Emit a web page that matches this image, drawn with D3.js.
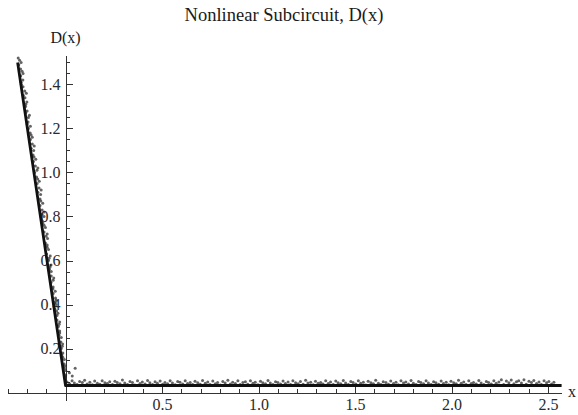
<!DOCTYPE html>
<html>
<head>
<meta charset="utf-8">
<script src="https://cdn.jsdelivr.net/npm/d3@7"></script>
<style>
  body { margin: 0; background: #fff; }
  svg { display: block; font-family: "Liberation Serif", "Times New Roman", serif; }
  .axis path, .axis line { stroke: #333; stroke-width: 1; shape-rendering: crispEdges; }
  .axis text { fill: #2a2a2a; font-size: 16px; font-family: "Liberation Serif", serif; }
</style>
</head>
<body>
<script>
// fitted piecewise curve D(x)
var curveX = [-0.248, 0, 2.57];
var curveD = [1.50, 0.032, 0.032];

// sampled points, slanted branch (x < 0)
var slantPts = [
  [-0.245,1.52],[-0.238,1.51],[-0.242,1.49],[-0.233,1.47],[-0.225,1.46],[-0.232,1.44],[-0.221,1.42],
  [-0.230,1.41],[-0.220,1.39],[-0.211,1.37],[-0.218,1.35],[-0.210,1.34],[-0.200,1.32],[-0.207,1.30],
  [-0.199,1.28],[-0.206,1.27],[-0.192,1.25],[-0.194,1.23],[-0.182,1.21],[-0.192,1.20],[-0.183,1.18],
  [-0.172,1.16],[-0.182,1.15],[-0.172,1.13],[-0.178,1.11],[-0.165,1.10],[-0.168,1.08],[-0.154,1.06],
  [-0.166,1.05],[-0.156,1.03],[-0.148,1.01],[-0.160,1.00],[-0.150,0.98],[-0.136,0.96],[-0.147,0.95],
  [-0.137,0.93],[-0.143,0.91],[-0.129,0.90],[-0.132,0.88],[-0.118,0.86],[-0.132,0.85],[-0.121,0.83],
  [-0.122,0.81],[-0.111,0.80],[-0.122,0.78],[-0.111,0.76],[-0.104,0.75],[-0.111,0.73],[-0.101,0.71],
  [-0.093,0.70],[-0.104,0.68],[-0.095,0.66],[-0.088,0.65],[-0.098,0.63],[-0.085,0.61],[-0.088,0.60],
  [-0.075,0.58],[-0.083,0.56],[-0.074,0.55],[-0.074,0.53],[-0.064,0.51],[-0.075,0.50],[-0.064,0.48],
  [-0.053,0.46],[-0.064,0.45],[-0.052,0.43],[-0.055,0.41],[-0.049,0.40],[-0.055,0.38],[-0.039,0.36],
  [-0.044,0.35],[-0.044,0.33],[-0.033,0.31],[-0.037,0.30],[-0.030,0.28],[-0.034,0.26],[-0.022,0.25],
  [-0.024,0.23],[-0.017,0.21],[-0.022,0.20],[-0.014,0.18],[-0.014,0.16],[-0.006,0.15],[-0.007,0.13],
  [-0.006,0.11],[0.001,0.10],[0.001,0.08],[-0.001,0.07],
  [-0.230,1.50],[-0.220,1.45],[-0.229,1.40],[-0.203,1.36],[-0.206,1.31],[-0.187,1.26],[-0.199,1.22],
  [-0.178,1.17],[-0.162,1.12],[-0.163,1.07],[-0.143,1.02],[-0.144,0.97],[-0.126,0.92],[-0.128,0.87],
  [-0.110,0.82],[-0.117,0.77],[-0.095,0.72],[-0.095,0.67],[-0.079,0.62],[-0.080,0.57],[-0.061,0.52],
  [-0.065,0.47],[-0.048,0.42],[-0.046,0.37],[-0.030,0.32],[-0.030,0.27],[-0.015,0.22],[-0.019,0.17],
  [-0.002,0.12],[0.050,0.110],[0.035,0.075],[0.020,0.090]
];

// sampled points, flat branch (x > 0)
var flatPts = [
  [0.008,.048],[0.021,.040],[0.034,.053],[0.046,.043],[0.060,.037],[0.073,.050],[0.087,.045],[0.099,.056],
  [0.112,.039],[0.126,.047],[0.139,.035],[0.151,.052],[0.165,.042],[0.178,.038],[0.190,.054],[0.204,.044],
  [0.217,.041],[0.229,.049],[0.243,.036],[0.256,.051],[0.268,.046],[0.282,.040],[0.295,.057],[0.307,.043],
  [0.321,.037],[0.334,.050],[0.347,.045],[0.359,.034],[0.373,.053],[0.386,.041],[0.398,.048],[0.412,.039],
  [0.425,.055],[0.437,.044],[0.451,.036],[0.464,.049],[0.476,.042],[0.490,.052],[0.503,.038],[0.515,.046],
  [0.529,.040],[0.542,.054],[0.554,.043],[0.568,.035],[0.581,.050],[0.593,.047],[0.607,.039],[0.620,.053],
  [0.632,.041],[0.646,.045],[0.659,.036],[0.671,.051],[0.685,.044],[0.698,.038],[0.710,.055],[0.724,.042],
  [0.737,.048],[0.749,.037],[0.763,.052],[0.776,.040],[0.788,.046],[0.802,.034],[0.815,.050],[0.827,.043],
  [0.841,.056],[0.854,.039],[0.866,.047],[0.880,.041],[0.893,.053],[0.905,.036],[0.919,.045],[0.932,.049],
  [0.944,.038],[0.958,.054],[0.971,.042],[0.983,.047],[0.997,.035],[1.010,.051],[1.022,.044],[1.036,.040],
  [1.049,.055],[1.061,.043],[1.075,.037],[1.088,.049],[1.100,.046],[1.114,.039],[1.127,.052],[1.139,.041],
  [1.153,.048],[1.166,.036],[1.178,.053],[1.192,.044],[1.205,.040],[1.217,.050],[1.231,.038],[1.244,.056],
  [1.256,.043],[1.270,.047],[1.283,.035],[1.295,.051],[1.309,.042],[1.322,.046],[1.334,.039],[1.348,.054],
  [1.361,.041],[1.373,.048],[1.387,.037],[1.400,.052],[1.412,.044],[1.426,.040],[1.439,.055],[1.451,.043],
  [1.465,.036],[1.478,.050],[1.490,.045],[1.504,.039],[1.517,.053],[1.529,.042],[1.543,.047],[1.556,.034],
  [1.568,.051],[1.582,.044],[1.595,.040],[1.607,.056],[1.621,.042],[1.634,.037],[1.646,.049],[1.660,.045],
  [1.673,.038],[1.685,.052],[1.699,.041],[1.712,.047],[1.724,.035],[1.738,.053],[1.751,.043],[1.763,.048],
  [1.777,.039],[1.790,.055],[1.802,.042],[1.816,.036],[1.829,.050],[1.841,.046],[1.855,.040],[1.868,.054],
  [1.880,.043],[1.894,.037],[1.907,.049],[1.919,.044],[1.933,.038],[1.946,.052],[1.958,.041],[1.972,.047],
  [1.985,.035],[1.997,.051],[2.011,.044],[2.024,.040],[2.036,.056],[2.050,.042],[2.063,.048],[2.075,.037],
  [2.089,.053],[2.102,.041],[2.114,.046],[2.128,.039],[2.141,.055],[2.153,.043],[2.167,.036],[2.180,.050],
  [2.192,.045],[2.206,.039],[2.219,.054],[2.231,.042],[2.245,.048],[2.258,.058],[2.270,.037],[2.284,.052],
  [2.297,.044],[2.309,.057],[2.323,.040],[2.336,.049],[2.348,.054],[2.362,.043],[2.375,.058],[2.387,.038],
  [2.401,.051],[2.414,.046],[2.426,.055],[2.440,.041],[2.453,.048],[2.465,.036],[2.479,.053],[2.492,.044],
  [2.504,.050],[2.518,.039],[2.530,.047]
];

var xMajor = [0.5, 1.0, 1.5, 2.0, 2.5];
var xMinor = [-0.3,-0.2,-0.1,0.1,0.2,0.3,0.4,0.6,0.7,0.8,0.9,1.1,1.2,1.3,1.4,1.6,1.7,1.8,1.9,2.1,2.2,2.3,2.4];
var yMajor = [0.2, 0.4, 0.6, 0.8, 1.0, 1.2, 1.4];
var yMinor = [0.05,0.1,0.15,0.25,0.3,0.35,0.45,0.5,0.55,0.65,0.7,0.75,0.85,0.9,0.95,1.05,1.1,1.15,1.25,1.3,1.35,1.45,1.5];

var width = 578, height = 415;

var x = d3.scaleLinear().domain([-0.3, 2.57]).range([7.6, 561.6]);
var y = d3.scaleLinear().domain([-0.034, 1.534]).range([400, 55]);

var svg = d3.select("body").append("svg")
    .attr("width", width)
    .attr("height", height);

// title
svg.append("text")
    .attr("x", 284)
    .attr("y", 21)
    .attr("text-anchor", "middle")
    .style("font-size", "18.5px")
    .style("fill", "#1a1a1a")
    .text("Nonlinear Subcircuit, D(x)");

// x axis (ticks pointing inward)
svg.append("g")
    .attr("class", "axis")
    .attr("transform", "translate(0," + y(0) + ")")
    .call(d3.axisBottom(x).tickValues(xMinor).tickSizeInner(-3.5).tickSizeOuter(0).tickFormat(""));
svg.append("g")
    .attr("class", "axis")
    .attr("transform", "translate(0," + y(0) + ")")
    .call(d3.axisBottom(x).tickValues(xMajor).tickSizeInner(-6).tickSizeOuter(0).tickPadding(6).tickFormat(d3.format(".1f")));

// y axis
svg.append("g")
    .attr("class", "axis")
    .attr("transform", "translate(" + x(0) + ",0)")
    .call(d3.axisLeft(y).tickValues(yMinor).tickSizeInner(-4).tickSizeOuter(0).tickFormat(""));
svg.append("g")
    .attr("class", "axis")
    .attr("transform", "translate(" + x(0) + ",0)")
    .call(d3.axisLeft(y).tickValues(yMajor).tickSizeInner(-7).tickSizeOuter(0).tickPadding(5).tickFormat(d3.format(".1f")));

// axis labels
svg.append("text")
    .attr("x", x(0))
    .attr("y", 43)
    .attr("text-anchor", "middle")
    .style("font-size", "16px")
    .style("fill", "#1a1a1a")
    .text("D(x)");
svg.append("text")
    .attr("x", 568)
    .attr("y", y(0) + 4)
    .style("font-size", "16px")
    .style("fill", "#1a1a1a")
    .text("x");

// scatter
var pts = slantPts.concat(flatPts);
svg.append("g")
  .selectAll("circle")
  .data(pts)
  .enter().append("circle")
    .attr("cx", function(d) { return x(d[0]); })
    .attr("cy", function(d) { return y(d[1]); })
    .attr("r", 1.5)
    .style("fill", "#222")
    .style("opacity", 0.7);

// fitted curve
var line = d3.line()
    .x(function(d, i) { return x(curveX[i]); })
    .y(function(d, i) { return y(curveD[i]); });

svg.append("path")
    .datum(curveX)
    .attr("d", line)
    .style("fill", "none")
    .style("stroke", "#111")
    .style("stroke-width", 2.8)
    .style("stroke-linejoin", "round");
</script>
</body>
</html>
